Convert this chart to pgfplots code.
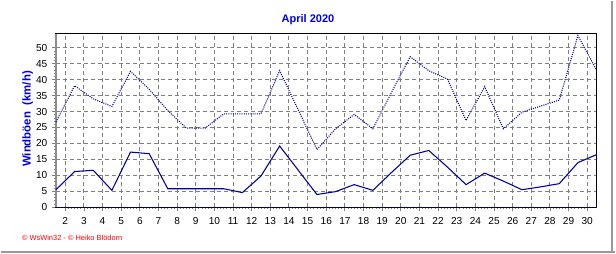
\documentclass[border=0pt]{standalone}
\usepackage{pgfplots}
\pgfplotsset{compat=1.18}
\usepackage{fontspec}
\setmainfont{Liberation Sans}
\definecolor{linecol}{RGB}{0,0,160}
\definecolor{txtblue}{RGB}{0,0,230}
\definecolor{gridgray}{RGB}{128,128,128}
\pgfplotstableread{
day gust avg zero
1.5 26.7 5.5 0
2.5 38.1 11.2 0
3.5 34.0 11.6 0
4.5 31.6 5.3 0
5.5 42.6 17.3 0
6.5 37.0 16.8 0
7.5 30.3 5.8 0
8.5 24.8 5.8 0
9.5 24.8 5.8 0
10.5 29.3 5.8 0
11.5 29.3 4.6 0
12.5 29.3 9.8 0
13.5 42.8 19.2 0
14.5 30.5 11.6 0
15.5 18.1 4.0 0
16.5 24.6 4.9 0
17.5 29.1 7.1 0
18.5 24.6 5.3 0
19.5 36.0 10.9 0
20.5 47.2 16.3 0
21.5 42.8 17.8 0
22.5 40.2 12.6 0
23.5 27.2 7.1 0
24.5 37.8 10.7 0
25.5 24.6 8.2 0
26.5 29.8 5.5 0
27.5 31.7 6.4 0
28.5 33.6 7.4 0
29.5 53.8 14.0 0
30.5 43.0 16.5 0
}\datatable
\begin{document}
\begin{tikzpicture}
\path (0pt,0pt) rectangle (462pt,189.75pt);
\draw[gray!80, line width=1.2pt] (459.75pt,0pt) -- (459.75pt,189.75pt);
\draw[gray!80, line width=1.2pt] (0pt,0.975pt) -- (462pt,0.975pt);
\begin{axis}[
  at={(41.475pt,34.5pt)}, anchor=south west,
  scale only axis,
  width=406.5pt, height=130.5pt,
  xmin=1.5, xmax=30.5, ymin=0, ymax=54.4,
  xtick={2,...,30}, ytick={0,5,...,50},
  minor x tick num=5,
  minor y tick num=4,
  tick align=outside,
  xtick pos=left, ytick pos=left,
  major tick length=3pt, minor tick length=1.5pt,
  tick style={gridgray, line width=0.6pt},
  grid=major,
  major grid style={gridgray, line width=0.75pt, dash pattern=on 3pt off 2.25pt},
  axis line style={black, line width=0.75pt},
  /pgf/number format/assume math mode=true,
  ticklabel style={font=\fontsize{7.6}{9}\selectfont, text=black},
  xticklabel style={yshift=-1pt},
  clip=false,
]
\draw[gridgray!90, line width=1.5pt] (rel axis cs:0,0) -- (rel axis cs:0,1);
\addplot[linecol, line width=0.75pt, dash pattern=on 0.75pt off 0.9pt] table[x=day, y=zero] {\datatable};
\addplot[linecol, line width=0.8pt, dash pattern=on 0.75pt off 0.9pt] table[x=day, y=gust] {\datatable};
\addplot[linecol, line width=0.8pt] table[x=day, y=avg] {\datatable};
\end{axis}
\node[anchor=center, text=txtblue, font=\bfseries\fontsize{8.3}{10}\selectfont, inner sep=0pt] at (231pt,175.5pt) {April 2020};
\node[anchor=center, rotate=90, text=txtblue, font=\bfseries\fontsize{8.6}{10}\selectfont, inner sep=0pt] at (20.25pt,100.9pt) {Windb\"oen\ \ (km/h)};
\node[anchor=west, text=red, font=\fontsize{5.6}{7}\selectfont, inner sep=0pt] at (15.75pt,11.25pt) {\textcopyright\ WsWin32 - \textcopyright\ Heiko Bl\"odorn};
\end{tikzpicture}
\end{document}
